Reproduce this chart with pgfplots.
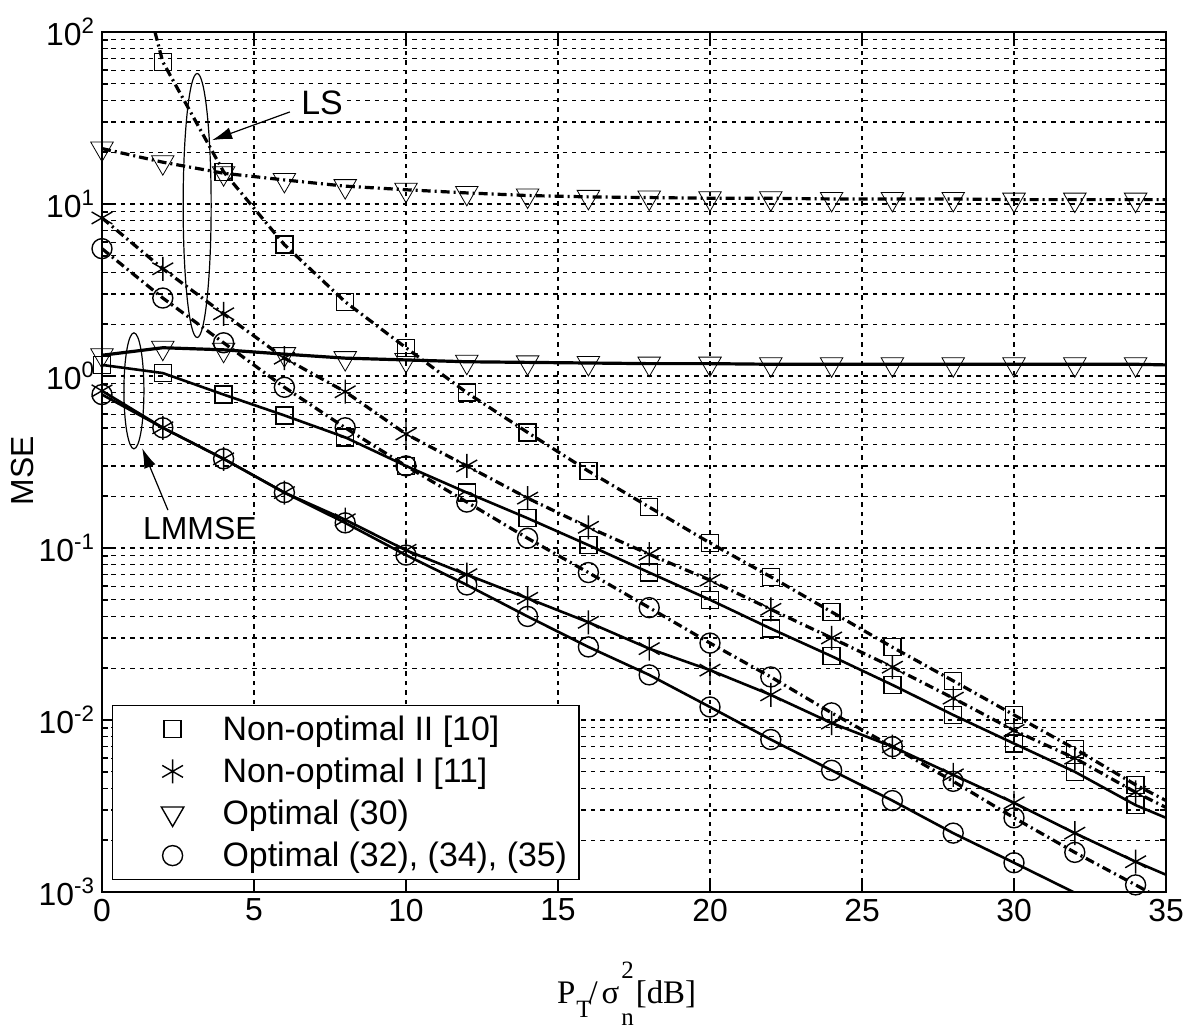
\documentclass[border=0pt]{standalone}
\usepackage{fontspec}
\setmainfont{Liberation Sans}
\newfontfamily\serif{Liberation Serif}
\usepackage{pgfplots}
\pgfplotsset{compat=1.18}
\usepackage{pgfplotstable}
\usetikzlibrary{arrows.meta}

% x  lsN2  lsN1  lsO30  lsO  lmN2  lmN1  lmO30  lmO
\pgfplotstableread{
x  a      b      c     d       e      f       g     h
0  1500   8.3    21    5.5     1.16   0.82    1.32  0.78
2  67     4.2    17.5  2.84    1.04   0.50    1.46  0.50
4  15.4   2.3    15.1  1.56    0.78   0.33    1.42  0.33
6  5.8    1.27   13.8  0.86    0.59   0.21    1.34  0.21
8  2.7    0.81   12.7  0.50    0.44   0.146   1.27  0.14
10 1.46   0.46   12.1  0.30    0.30   0.097   1.24  0.091
12 0.80   0.30   11.6  0.185   0.21   0.070   1.21  0.061
14 0.47   0.195  11.2  0.114   0.149  0.051   1.20  0.040
16 0.28   0.132  11.0  0.072   0.104  0.037   1.19  0.0266
18 0.173  0.092  10.9  0.045   0.072  0.026   1.18  0.0183
20 0.107  0.065  10.8  0.028   0.050  0.0195  1.18  0.0119
22 0.068  0.044  10.8  0.0178  0.034  0.014   1.17  0.0077
24 0.0425 0.030  10.7  0.011   0.0235 0.0096  1.17  0.0051
26 0.0265 0.0203 10.7  0.007   0.016  0.0070  1.17  0.0034
28 0.0169 0.0134 10.7  0.0044  0.0107 0.0048  1.17  0.0022
30 0.0107 0.0087 10.6  0.0027  0.0073 0.0033  1.17  0.00148
32 0.0068 0.0060 10.6  0.0017  0.0050 0.0022  1.17  0.00099
34 0.0042 0.0038 10.6  0.0011  0.0032 0.0015  1.17  0.00066
35 0.0034 0.0031 10.6  0.00088 0.0027 0.00126 1.16  0.00054
}\data

\pgfplotsset{
  mylegimg/.style={legend image code/.code={\path[draw=none,fill=none] (-26bp,-0.1pt) rectangle (23bp,0.1pt); \draw[##1] plot coordinates {(0cm,0cm)};}},
}

\begin{document}
\begin{tikzpicture}
\begin{axis}[
  scale only axis, width=532bp, height=430bp,
  xmin=0, xmax=35, ymin=1e-3, ymax=1e2, ymode=log,
  xtick={0,5,...,35},
  ytick={1e-3,1e-2,1e-1,1,1e1,1e2},
  yticklabels={10\textsuperscript{-3},10\textsuperscript{-2},10\textsuperscript{-1},10\textsuperscript{0},10\textsuperscript{1},10\textsuperscript{2}},
  /pgf/number format/assume math mode=true,
  tick label style={font=\fontsize{16}{19}\selectfont},
  axis line style={line width=1bp},
  major tick length=5.5bp, minor tick length=3bp,
  tick style={line width=0.8bp, black},
  grid=both,
  major grid style={black, line width=0.6bp, dash pattern=on 2.2bp off 2.5bp},
  minor grid style={black, line width=0.6bp, dash pattern=on 2.2bp off 2.5bp},
  xlabel={\serif\fontsize{16.5}{19}\selectfont P\kern0.5bp\raisebox{-7bp}{\fontsize{12.5}{13}\selectfont T}\kern-1.5bp/\kern2bp σ\kern1bp\rlap{\raisebox{12.5bp}{\fontsize{12.5}{13}\selectfont 2}}\raisebox{-11bp}{\fontsize{12.5}{13}\selectfont n}\kern1bp[dB]},
  xlabel style={at={(axis description cs:0.493,0)}, anchor=base, yshift=-55.5bp},
  ylabel={MSE},
  ylabel style={at={(axis description cs:-0.075,0.49)}, anchor=center, font=\fontsize{16}{19}\selectfont},
  legend style={at={(axis description cs:0.0094,0.014)}, anchor=south west, draw=black, line width=0.6bp, fill=white,
    font=\fontsize{17}{20}\selectfont, inner xsep=4bp, inner ysep=3bp, row sep=3.3bp},
  legend cell align=left,
  ls/.style={black, line width=1.6bp, dash pattern=on 4.5bp off 2bp on 1bp off 2bp},
  lm/.style={black, line width=1.3bp},
  mk/.style={only marks, black, mark options={solid, line width=0.7bp, fill=none}},
]
\addlegendimage{only marks, mark=square, mark size=4.25bp, mark options={line width=0.7bp}, mylegimg}
\addlegendentry{Non-optimal II [10]}
\addlegendimage{only marks, mark=asterisk, mark size=6bp, mark options={line width=0.7bp}, mylegimg}
\addlegendentry{Non-optimal I [11]}
\addlegendimage{only marks, mark=triangle, mark size=6.5bp, mark options={line width=0.7bp, rotate=180}, mylegimg}
\addlegendentry{Optimal (30)}
\addlegendimage{only marks, mark=o, mark size=5bp, mark options={line width=0.7bp}, mylegimg}
\addlegendentry{Optimal (32), (34), (35)}

% LS (dash-dot)
\addplot[ls, forget plot] table[x=x,y=a]{\data};
\addplot[ls, forget plot] table[x=x,y=b]{\data};
\addplot[ls, forget plot] table[x=x,y=c]{\data};
\addplot[ls, forget plot] table[x=x,y=d]{\data};
% LMMSE (solid)
\addplot[lm, forget plot] table[x=x,y=e]{\data};
\addplot[lm, forget plot] table[x=x,y=f]{\data};
\addplot[lm, line width=1.6bp, forget plot] table[x=x,y=g]{\data};
\addplot[lm, forget plot] table[x=x,y=h]{\data};
% markers
\addplot[mk, mark=square, mark size=4.25bp, restrict x to domain=0:34, forget plot] table[x=x,y=a]{\data};
\addplot[mk, mark=asterisk, mark size=6bp, restrict x to domain=0:34, forget plot] table[x=x,y=b]{\data};
\addplot[mk, mark=triangle, mark size=6.5bp, mark options={rotate=180}, restrict x to domain=0:34, forget plot] table[x=x,y=c]{\data};
\addplot[mk, mark=o, mark size=5bp, restrict x to domain=0:34, forget plot] table[x=x,y=d]{\data};
\addplot[mk, mark=square, mark size=4.25bp, restrict x to domain=0:34, forget plot] table[x=x,y=e]{\data};
\addplot[mk, mark=asterisk, mark size=6bp, restrict x to domain=0:34, forget plot] table[x=x,y=f]{\data};
\addplot[mk, mark=triangle, mark size=6.5bp, mark options={rotate=180}, restrict x to domain=0:34, forget plot] table[x=x,y=g]{\data};
\addplot[mk, mark=o, mark size=5bp, restrict x to domain=0:34, forget plot] table[x=x,y=h]{\data};

% annotations
\draw[line width=0.6bp] (axis cs:3.13,9.8) ellipse [x radius=7bp, y radius=66bp];
\draw[line width=0.6bp] (axis cs:1.05,0.82) ellipse [x radius=5bp, y radius=29bp];
\draw[line width=0.6bp, -{Latex[length=10bp,width=6bp]}] (axis cs:6.18,34.3) -- (axis cs:3.62,23.5);
\draw[line width=0.6bp, -{Latex[length=10bp,width=6bp]}] (axis cs:2.17,0.166) -- (axis cs:1.32,0.381);
\node[font=\fontsize{17}{20}\selectfont, fill=white, inner sep=2bp] at (axis cs:7.24,38.6) {LS};
\node[font=\fontsize{16}{19}\selectfont, fill=white, inner sep=1bp] at (axis cs:3.22,0.1306) {LMMSE};
\end{axis}
\path (current axis.south west) ++(-51bp,-71.5bp) rectangle ++(600bp,517.5bp);
\end{tikzpicture}
\end{document}
